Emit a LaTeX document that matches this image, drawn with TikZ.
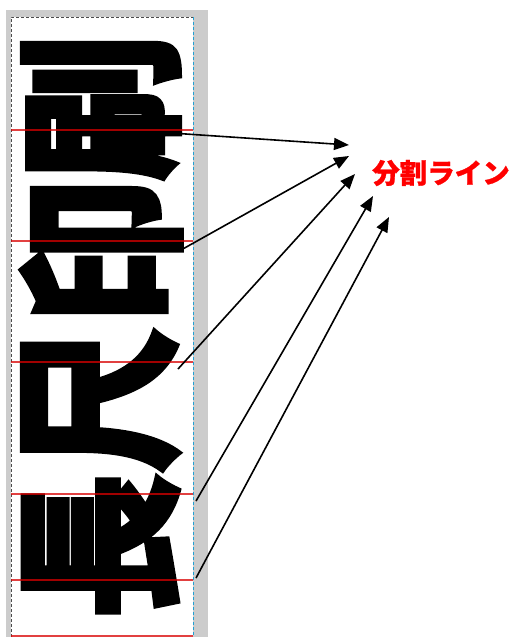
\documentclass[tikz,border=0pt]{standalone}
\usepackage{fontspec}
\usetikzlibrary{arrows.meta}
\newfontfamily\cjk[FakeBold=1]{Noto Sans CJK JP}
\newfontfamily\cjkheavy[FakeBold=2.5]{Noto Sans CJK JP}
\tikzset{
  glyph/.style={rotate=90, inner sep=0pt, text=black,
    font={\cjkheavy\bfseries\fontsize{170pt}{170pt}\selectfont}},
  splitline/.style={draw=red!85!black, draw opacity=0.75, line width=1.4pt},
  pointer/.style={draw=black, line width=1.6pt, -{Triangle[length=15pt,width=12pt]}},
  labeltext/.style={inner sep=0pt, text=red, font={\cjk\bfseries\fontsize{27.5pt}{27.5pt}\selectfont}},
}
\begin{document}
\begin{tikzpicture}[x=1pt,y=-1pt]
\useasboundingbox (0,0) rectangle (514,637);
% page panel
\fill[black!20] (6,10) rectangle (208,637);
\fill[white] (11,17) rectangle (193,637);
\draw[black!70, line width=1pt, dash pattern=on 3pt off 2pt] (11,637) -- (11,17) -- (193,17);
\draw[cyan!70!teal, line width=1pt, dash pattern=on 3pt off 2pt] (193,17) -- (193,637);
% rotated heavy text
\node[glyph] (g1) at (101,108) {\scalebox{0.86}[1]{刷}};
\node[glyph] (g2) at (101,252) {\scalebox{0.86}[1]{印}};
\node[glyph] (g3) at (101,400) {\scalebox{0.86}[1]{尺}};
\node[glyph] (g4) at (101,546) {\scalebox{0.86}[1]{長}};
% split lines
\foreach \yy in {130,241,362,494,580,636}{
  \draw[splitline] (11,\yy) -- (193,\yy);
}
% label
\node[labeltext] (lab) at (441,173) {分割ライン};
% arrow coordinates
\coordinate (s1) at (171,133); \coordinate (t1) at (349,145);
\coordinate (s2) at (181,250); \coordinate (t2) at (349,156);
\coordinate (s3) at (178,369); \coordinate (t3) at (355,174);
\coordinate (s4) at (196,501); \coordinate (t4) at (373,196);
\coordinate (s5) at (196,578); \coordinate (t5) at (389,217);
\draw[pointer] (s1) -- (t1);
\draw[pointer] (s2) -- (t2);
\draw[pointer] (s3) -- (t3);
\draw[pointer] (s4) -- (t4);
\draw[pointer] (s5) -- (t5);
\end{tikzpicture}
\end{document}
